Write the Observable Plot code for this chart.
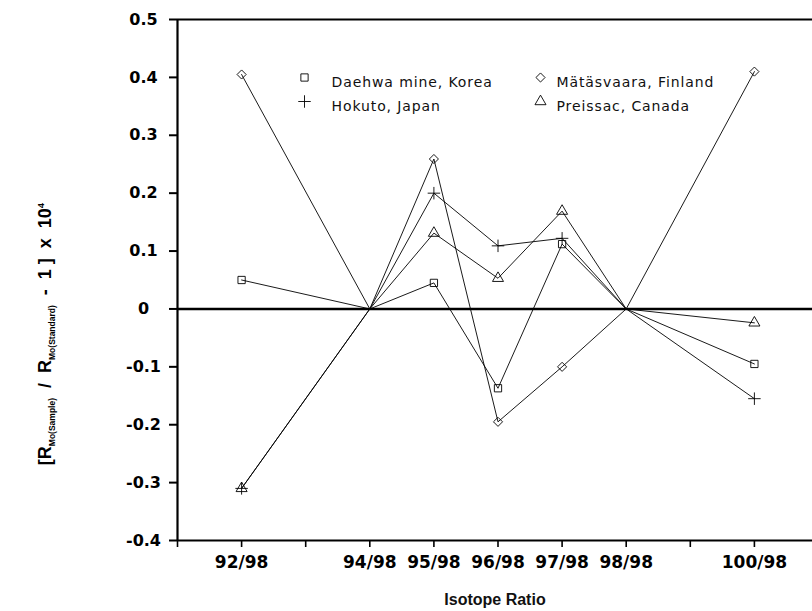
<!DOCTYPE html>
<html>
<head>
<meta charset="utf-8">
<script src="https://cdn.jsdelivr.net/npm/d3@7"></script>
<script src="https://cdn.jsdelivr.net/npm/@observablehq/plot@0.6"></script>
<style>
  html, body { margin: 0; padding: 0; background: #fff; }
  #chart { width: 812px; height: 611px; }
</style>
</head>
<body>
<div id="chart"></div>
<script>
// ---- data ----
const masses = [92, 94, 95, 96, 97, 98, 100];
const ratioLabels = ["92/98", "94/98", "95/98", "96/98", "97/98", "98/98", "100/98"];
const seriesNames = ["Daehwa mine, Korea", "Mätäsvaara, Finland", "Hokuto, Japan", "Preissac, Canada"];
const daehwa     = [0.050, 0, 0.045, -0.137, 0.112, 0, -0.095];
const matasvaara = [0.405, 0, 0.259, -0.195, -0.100, 0, 0.410];
const hokuto     = [-0.310, 0, 0.200, 0.109, 0.122, 0, -0.155];
const preissac   = [-0.310, 0, 0.131, 0.053, 0.169, 0, -0.024];
const referenceMasses = [94, 98]; // normalising isotopes (no marker)
const yTicks = [-0.4, -0.3, -0.2, -0.1, 0, 0.1, 0.2, 0.3, 0.4, 0.5];
const xTicks = [91, 92, 93, 94, 95, 96, 97, 98, 99, 100];

// ---- table ----
const seriesValues = [daehwa, matasvaara, hokuto, preissac];
const rows = [];
seriesNames.forEach((s, k) => masses.forEach((m, i) => rows.push({series: s, mass: m, value: seriesValues[k][i]})));
const markerRows = rows.filter(d => !referenceMasses.includes(d.mass));
const labelOf = new Map(masses.map((m, i) => [m, ratioLabels[i]]));

// ---- layout / styles ----
const symbols = ["square", "diamond2", "plus", "triangle"];
const legendLayout = [
  {dx: 127, dy: 58, gap: 27}, {dx: 363, dy: 58, gap: 16},
  {dx: 127, dy: 82, gap: 27}, {dx: 363, dy: 82, gap: 16}
];
const tickFont = "DejaVu Sans, Verdana, sans-serif";
const legendFont = "DejaVu Sans, sans-serif";
const markerR = 4.1;

const legendMarks = seriesNames.flatMap((s, i) => [
  Plot.dot([s], {frameAnchor: "top-left", dx: legendLayout[i].dx, dy: legendLayout[i].dy,
    symbol: d => d, r: markerR, stroke: "black", fill: "none", strokeWidth: 0.9}),
  Plot.text([s], {frameAnchor: "top-left", dx: legendLayout[i].dx + legendLayout[i].gap, dy: legendLayout[i].dy,
    text: d => d, textAnchor: "start", fontSize: 14, fontFamily: legendFont, fill: "#111"})
]);

const chart = Plot.plot({
  width: 812,
  height: 611,
  marginLeft: 177,
  marginRight: 0,
  marginTop: 19,
  marginBottom: 71,
  x: {domain: [91, 101], range: [177, 818]},
  y: {domain: [-0.4, 0.5]},
  symbol: {domain: seriesNames, range: symbols},
  style: {background: "white", color: "black"},
  marks: [
    Plot.ruleY([0.5], {strokeWidth: 2.2}),
    Plot.ruleY([-0.4], {strokeWidth: 2.2}),
    Plot.ruleY([0], {strokeWidth: 2.6}),
    Plot.ruleX([91], {strokeWidth: 2.2}),
    Plot.axisY({ticks: yTicks, tickSize: 8, tickPadding: 26, textAnchor: "middle",
      strokeWidth: 2, tickFormat: d => d === 0 ? "0" : d.toFixed(1),
      fontSize: 16, fontWeight: "bold", fontFamily: tickFont, label: null}),
    Plot.axisX({ticks: xTicks, tickSize: 7, tickPadding: 8, strokeWidth: 1.6,
      tickFormat: m => labelOf.get(m) ?? "",
      fontSize: 17, fontWeight: "bold", fontFamily: tickFont, label: null}),
    Plot.line(rows, {x: "mass", y: "value", z: "series", stroke: "black", strokeWidth: 0.9}),
    Plot.dot(markerRows, {x: "mass", y: "value", symbol: "series", r: markerR,
      stroke: "black", fill: "none", strokeWidth: 0.9}),
    ...legendMarks,
    Plot.text(["Isotope Ratio"], {frameAnchor: "bottom", dy: 64, text: d => d,
      fontSize: 16, fontFamily: "Liberation Sans, Arial, sans-serif", fontWeight: "bold", fill: "#111"})
  ]
});

// legend letter spacing (applied to the legend text elements)
d3.select(chart).selectAll("text").filter(function () { return seriesNames.includes(this.textContent); })
  .style("letter-spacing", "0.9px");

// y-axis title with subscripts / superscript
const svg = d3.select(chart);
const t = svg.append("text")
  .attr("transform", "translate(51,334) rotate(-90)")
  .attr("text-anchor", "middle")
  .attr("font-family", "Liberation Sans, Arial, sans-serif")
  .attr("font-weight", "bold")
  .attr("font-size", 18)
  .attr("fill", "black");
t.append("tspan").text("[R");
t.append("tspan").attr("font-size", 8.5).attr("dy", 4).text("Mo(Sample)");
t.append("tspan").attr("dy", -4).text("  /  R");
t.append("tspan").attr("font-size", 8.5).attr("dy", 4).text("Mo(Standard)");
t.append("tspan").attr("dy", -4).text("  -  1 ]  x  10");
t.append("tspan").attr("font-size", 9.5).attr("dy", -7).text("4");

document.getElementById("chart").append(chart);
</script>
</body>
</html>
